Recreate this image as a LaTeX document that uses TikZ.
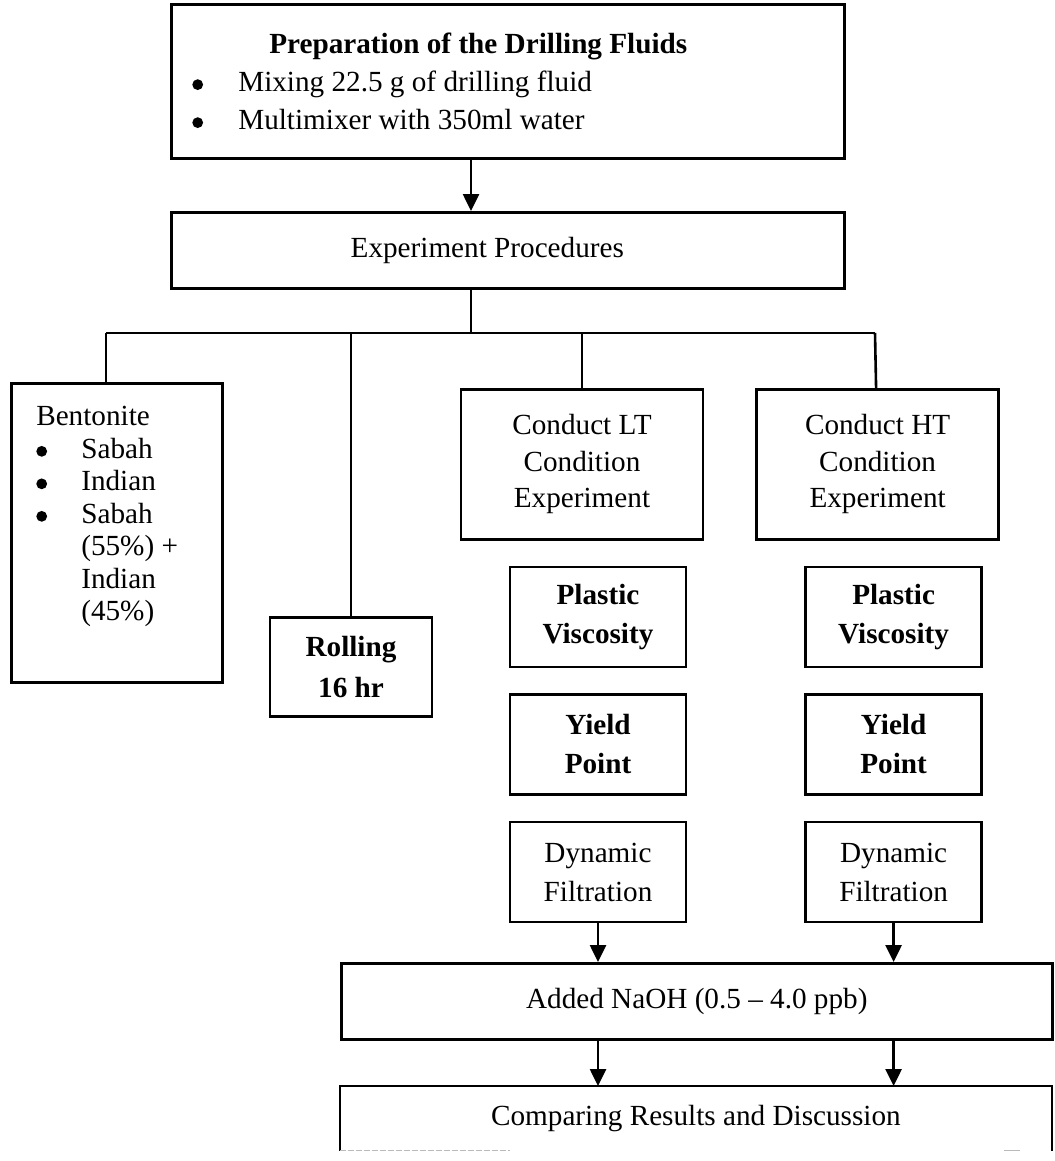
\documentclass[tikz,border=0pt]{standalone}
\usepackage{fontspec}
\setmainfont{Liberation Serif}
\usetikzlibrary{arrows.meta,positioning,calc}
\newcommand{\bdot}{\tikz[baseline={(0pt,-3.4pt)}]\fill (0pt,0pt) circle (2.7pt);}

\begin{document}
\begin{tikzpicture}[
    x=0.5pt, y=-0.5pt,
    node distance=12.5pt,
    box/.style={rectangle, draw, line width=1.3pt, align=center, inner sep=0pt, font=\fontsize{14.6}{18.25}\selectfont},
    sbox/.style={box, minimum width=88pt, minimum height=50pt, font=\fontsize{14.6}{19.5}\selectfont},
    link/.style={line width=1.3pt},
    arrow/.style={-{Triangle[length=8.5pt,width=8pt]}, line width=1.3pt}
]
    \useasboundingbox (0,0) rectangle (1054,1161);

    % top of the chart
    \node[box, anchor=north west, align=flush left, text width=315.5pt, inner xsep=10.5pt, minimum height=77pt,
          font=\fontsize{14.6}{19}\selectfont] (prep) at (170,3)
        {\hspace*{38.5pt}\textbf{Preparation of the Drilling Fluids}\\
         \makebox[23pt][l]{\bdot}Mixing 22.5 g of drilling fluid\\
         \makebox[23pt][l]{\bdot}Multimixer with 350ml water};
    \node[box, anchor=north west, minimum width=336.5pt, minimum height=38pt] (exp) at (170,211)
        {\kern-20.5pt Experiment Procedures};

    % branches
    \coordinate (bus) at (471,333);
    \coordinate (busL) at (106,333);
    \coordinate (busR) at (875,333);

    \node[box, anchor=north west, align=flush left, text width=80.5pt, inner xsep=12.5pt, inner ysep=11.5pt,
          font=\fontsize{14.6}{16.25}\selectfont] (bent) at (10,382)
        {Bentonite\\
         \makebox[22.5pt][l]{\bdot}Sabah\\
         \makebox[22.5pt][l]{\bdot}Indian\\
         \makebox[22.5pt][l]{\bdot}Sabah\\
         \hspace*{22.5pt}(55\%) +\\
         \hspace*{22.5pt}Indian\\
         \hspace*{22.5pt}(45\%)\rule[-19.5pt]{0pt}{19.5pt}};
    \node[box, anchor=north, minimum width=81pt, minimum height=49.5pt,
          font=\fontsize{14.6}{20.5}\selectfont\bfseries] (roll) at (351,616) {Rolling\\16 hr};
    \node[box, anchor=north, minimum width=121pt, minimum height=75pt] (lt) at (582,388) {Conduct LT\\Condition\\Experiment};
    \node[box, minimum width=121pt, minimum height=75pt, right=25.5pt of lt] (ht) {Conduct HT\\Condition\\Experiment};

    % LT column
    \node[sbox, below=12.5pt of lt, xshift=8pt] (pv1) {\textbf{Plastic}\\\textbf{Viscosity}};
    \node[sbox, below=of pv1] (yp1) {\textbf{Yield}\\\textbf{Point}};
    \node[sbox, below=of yp1] (df1) {Dynamic\\Filtration};

    % HT column
    \node[sbox, below=12.5pt of ht, xshift=8pt] (pv2) {\textbf{Plastic}\\\textbf{Viscosity}};
    \node[sbox, below=of pv2] (yp2) {\textbf{Yield}\\\textbf{Point}};
    \node[sbox, below=of yp2] (df2) {Dynamic\\Filtration};

    % bottom of the chart
    \node[box, anchor=north west, minimum width=355.5pt, minimum height=38pt] (naoh) at (340,962) {Added NaOH (0.5 -- 4.0 ppb)};
    \node[anchor=north west, minimum width=355.5pt, minimum height=32pt, inner sep=0pt,
          font=\fontsize{14.6}{18.25}\selectfont] (final) at (340,1086) {Comparing Results and Discussion};
    \draw[link] (final.south west) -- (final.north west) -- (final.north east) -- (final.south east);
    \draw[gray!55, line width=0.6pt, dash pattern=on 3pt off 1pt] (final.south west) -- ++(85pt,0);
    \draw[gray!55, line width=0.6pt] ($(final.south east)+(-16pt,0)$) -- ++(-8pt,0);

    \draw[arrow] (prep.south -| bus) -- (exp.north -| bus);
    \draw[link] (exp.south -| bus) -- (bus);
    \draw[link] (busL) -- (busR);
    \draw[link] (busL) -- (busL |- bent.north);
    \draw[link] (roll.north |- bus) -- (roll);
    \draw[link] (lt.north |- bus) -- (lt);
    \draw[link] (busR) -- (ht);

    \draw[arrow] (df1) -- (df1 |- naoh.north);
    \draw[arrow] (df2) -- (df2 |- naoh.north);
    \draw[arrow] (naoh.south -| df1) -- (final.north -| df1);
    \draw[arrow] (naoh.south -| df2) -- (final.north -| df2);
\end{tikzpicture}
\end{document}
